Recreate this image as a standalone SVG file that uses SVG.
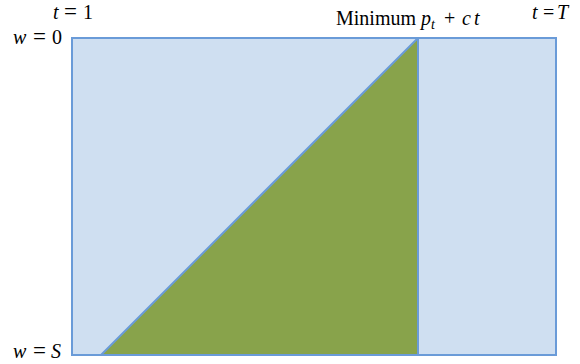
<svg xmlns="http://www.w3.org/2000/svg" width="580" height="364" viewBox="0 0 580 364">
<style>
text{font-size:20px;fill:#000}
.i{font-style:italic}
.eq{font-size:23px}
</style>
<rect width="580" height="364" fill="#fff"/>
<g id="region">
<rect x="72" y="38" width="484" height="317" fill="#CFDFF1" stroke="#6A9BD8" stroke-width="2"/>
</g>
<g id="triangle">
<polygon points="101,355 418,38 418,355" fill="#88A34B" stroke="#6A9BD8" stroke-width="2" stroke-linejoin="round"/>
</g>
<g id="labels" font-family="Liberation Serif, DejaVu Serif, serif">
<text y="19"><tspan class="i" x="53">t</tspan><tspan class="eq" x="64">=</tspan><tspan x="83">1</tspan></text>
<text y="44"><tspan class="i" x="13">w</tspan><tspan class="eq" x="33">=</tspan><tspan x="52">0</tspan></text>
<text y="358"><tspan class="i" x="13">w</tspan><tspan class="eq" x="33">=</tspan><tspan class="i" x="51">S</tspan></text>
<text y="25"><tspan x="336">Minimum</tspan><tspan class="i" x="421">p</tspan><tspan class="i" font-size="14" dy="4">t</tspan><tspan dy="-4" x="444">+</tspan><tspan class="i" x="462">c</tspan><tspan class="i" x="474">t</tspan></text>
<text y="19"><tspan class="i" x="532">t</tspan><tspan x="543">=</tspan><tspan class="i" x="557">T</tspan></text>
</g>
</svg>
